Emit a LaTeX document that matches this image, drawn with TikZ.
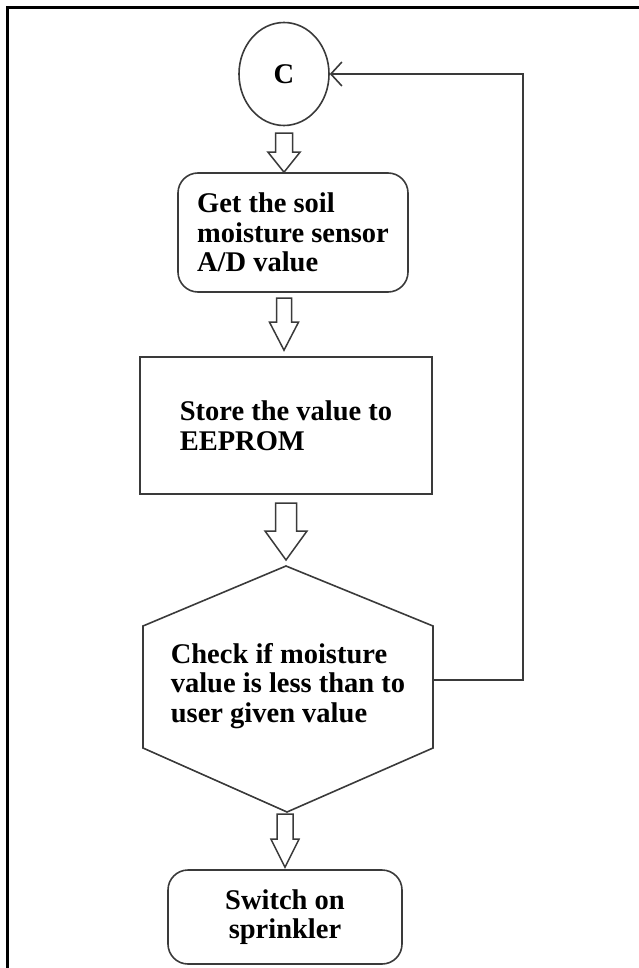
\documentclass[tikz,border=0pt]{standalone}
\usepackage{fontspec}
\setmainfont{Liberation Serif}
\usetikzlibrary{arrows.meta,shapes.geometric,calc}
\definecolor{ln}{HTML}{3A3A3A}
\newcommand\bkarrow[5]{% tip coordinate, head length, shaft length, half shaft, half head
  \draw[barrow] #1 -- ++(-#5,-#2) -- ++(#5-#4,0) -- ++(0,-#3) -- ++(2*#4,0) -- ++(0,#3) -- ++(#5-#4,0) -- cycle;}
\begin{document}
\begin{tikzpicture}[x=1pt,y=-1pt,
  every node/.style={font=\fontsize{28.5}{29.5}\selectfont\bfseries, text=black},
  shapeline/.style={draw=ln, line width=1.6pt},
  barrow/.style={draw=ln, line width=1.5pt, line join=miter, fill=white},
  roundbox/.style={shapeline, rounded corners=20pt, align=left, inner sep=0pt},
  plainbox/.style={shapeline, align=left, inner sep=0pt},
  loopline/.style={draw=ln, line width=1.6pt, -{Straight Barb[length=11pt,width=24pt,line width=1.6pt]}},
  frameline/.style={draw=black, line width=3pt}
]
\useasboundingbox (0,0) rectangle (639,968);
% frame (left and top edges)
\draw[frameline] (7,968) -- (7,8) -- (639,8);

% connector circle
\node[shapeline, ellipse, minimum width=90pt, minimum height=103pt, inner sep=0pt] (circ) at (284,74) {C};

% get value
\node[roundbox, minimum width=230pt, minimum height=119pt] (b1) at (293,232.5)
  {Get the soil\\moisture sensor\\A/D value};

% store
\node[plainbox, minimum width=292pt, minimum height=137pt] (b2) at (286,425.5)
  {Store the value to\\EEPROM};

% hexagon decision
\coordinate (hT) at (286,566);
\coordinate (hUR) at (433,626);
\coordinate (hLR) at (433,748);
\coordinate (hB) at (287,812);
\coordinate (hLL) at (143,748);
\coordinate (hUL) at (143,626);
\draw[shapeline, line join=miter] (hT) -- (hUR) -- (hLR) -- (hB) -- (hLL) -- (hUL) -- cycle;
\node[align=left, inner sep=0pt] (hex) at (288,686)
  {Check if moisture\\value is less than to\\user given value};

% switch on
\node[roundbox, align=center, minimum width=234pt, minimum height=94pt] (b4) at (285,917)
  {Switch on\\sprinkler};

% block arrows
\bkarrow{(b1.north -| circ.south)}{20}{19}{8.5}{16}
\bkarrow{($(b2.north -| circ.south)+(0,-6)$)}{28}{24}{7.5}{14.5}
\bkarrow{($(hT)+(0,-6)$)}{29}{28}{10.5}{21}
\bkarrow{($(b4.north)+(0,-2)$)}{28}{25}{8}{14}

% loop back
\coordinate (hR) at (433,680);
\coordinate (loopTop) at (523,74);
\draw[loopline] (hR) -| (loopTop) -- (circ.east);
\end{tikzpicture}
\end{document}
